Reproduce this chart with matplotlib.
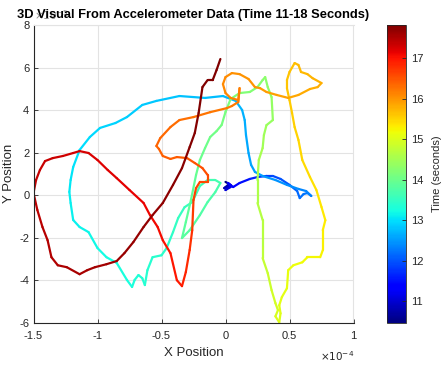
import numpy as np
import matplotlib
matplotlib.use("Agg")
import matplotlib.pyplot as plt
from matplotlib.collections import LineCollection

plt.rcParams['font.family'] = ['Liberation Sans', 'DejaVu Sans']
plt.rcParams['axes.unicode_minus'] = False

# 轨迹数据 (x 单位 1e-4, y 单位 1e-5, t 秒)
x_pos = [-0.00, 0.03, -0.01, 0.04, 0.00, 0.04, 0.02, 0.06,
         0.11, 0.19, 0.25, 0.32, 0.37, 0.43, 0.50, 0.56, 0.58, 0.61, 0.64, 0.67,
         0.63, 0.57, 0.48, 0.39, 0.29, 0.23, 0.20, 0.18, 0.16, 0.15, 0.13, 0.08,
         -0.02, -0.16, -0.36, -0.54, -0.65, -0.77, -0.86, -0.98, -1.06, -1.14,
         -1.19, -1.21, -1.22, -1.21, -1.19, -1.14, -1.07, -1.00, -0.93, -0.85,
         -0.77, -0.73, -0.71, -0.68, -0.65, -0.63, -0.61, -0.57, -0.50, -0.46,
         -0.41, -0.37, -0.32, -0.26, -0.20, -0.14, -0.08, -0.04, -0.08, -0.14,
         -0.20, -0.28, -0.34, -0.31, -0.27, -0.23, -0.20, -0.16, -0.12, -0.07,
         -0.03, 0.00, 0.04, 0.11, 0.19, 0.25, 0.29, 0.31, 0.33, 0.36, 0.37,
         0.32, 0.30, 0.29, 0.26, 0.25, 0.25, 0.29, 0.29, 0.29, 0.33, 0.36,
         0.39, 0.41, 0.39, 0.42, 0.43, 0.42, 0.44, 0.48, 0.49, 0.53, 0.60,
         0.64, 0.74, 0.76, 0.76, 0.78, 0.75, 0.71, 0.66, 0.60, 0.57, 0.54,
         0.52, 0.50, 0.48, 0.48, 0.50, 0.54, 0.57, 0.59, 0.64, 0.68, 0.75,
         0.72, 0.66, 0.57, 0.49, 0.40, 0.32, 0.27, 0.23, 0.18, 0.11, 0.05,
         0.00, -0.02, -0.00, 0.04, 0.10, 0.11, 0.10, 0.05, 0.01, -0.12, -0.25,
         -0.36, -0.43, -0.51, -0.54, -0.52, -0.49, -0.43, -0.38, -0.30, -0.24,
         -0.18, -0.14, -0.14, -0.20, -0.23, -0.25, -0.26, -0.28, -0.31, -0.34,
         -0.38, -0.43, -0.49, -0.53, -0.59, -0.64, -0.75, -0.85, -0.92, -1.00,
         -1.07, -1.14, -1.19, -1.27, -1.35, -1.41, -1.45, -1.48, -1.50, -1.47,
         -1.43, -1.39, -1.36, -1.31, -1.24, -1.14, -1.08, -1.02, -0.93, -0.85,
         -0.79, -0.72, -0.64, -0.57, -0.49, -0.41, -0.34, -0.28, -0.24, -0.21,
         -0.18, -0.14, -0.10, -0.07, -0.04]
y_pos = [0.62, 0.52, 0.33, 0.48, 0.24, 0.38, 0.57, 0.38,
         0.57, 0.76, 0.85, 0.90, 0.90, 0.76, 0.48, 0.19, -0.14, 0.05, 0.10, -0.04,
         0.19, 0.29, 0.48, 0.71, 0.90, 1.09, 1.42, 1.98, 2.83, 3.53, 4.00, 4.43,
         4.66, 4.57, 4.66, 4.43, 4.24, 3.67, 3.39, 3.16, 2.73, 2.12,
         1.32, 0.71, 0.15, -0.37, -1.17, -1.50, -1.74, -2.49, -2.92, -3.19,
         -3.99, -4.32, -3.99, -3.76, -3.91, -4.23, -3.53, -2.92, -2.83, -2.49,
         -1.74, -1.08, -0.57, -0.33, 0.43, 0.71, 0.71, 0.57, 0.14, -0.33,
         -0.94, -1.65, -2.02, -1.27, -0.23, 0.95, 1.65, 2.21, 2.73, 3.01,
         3.30, 3.91, 4.52, 4.80, 4.85, 5.08, 5.41, 5.55, 5.08, 4.61, 3.53,
         3.29, 2.82, 2.21, 1.65, 0.71, -0.37, -1.17, -2.44, -2.96, -3.67, -4.47,
         -5.08, -5.41, -5.70, -5.98, -5.56, -5.18, -4.80, -4.38, -3.53, -3.30, -3.16,
         -2.92, -2.92, -2.59, -1.65, -1.18, -0.56, 0.24, 0.85, 1.65, 2.59, 3.20,
         3.86, 4.47, 5.03, 5.41, 5.79, 6.21, 6.12, 5.79, 5.69, 5.50, 5.27,
         5.08, 4.99, 4.71, 4.57, 4.71, 4.85, 5.03, 5.08, 5.46, 5.69, 5.74,
         5.55, 5.22, 4.80, 4.57, 4.47, 5.03, 4.38, 4.19, 4.09, 3.90, 3.67,
         3.53, 3.20, 2.68, 2.31, 2.17, 1.84, 1.70, 1.79, 1.74, 1.51,
         1.27, 0.95, 0.62, 0.62, 0.33, -0.23, -1.65, -2.58, -3.62, -4.28,
         -4.00, -2.73, -2.12, -1.50, -0.94, -0.37, 0.24, 0.80, 1.18, 1.65,
         1.98, 2.07, 1.98, 1.84, 1.74, 1.60, 1.18, 0.71, 0.10, -0.70,
         -1.50, -2.12, -2.92, -3.30, -3.39, -3.72, -3.53, -3.39, -3.25, -3.10,
         -2.73, -2.21, -1.50, -0.94, -0.37, 0.48, 1.27, 2.26, 2.92, 3.86,
         5.08, 5.41, 5.41, 5.88, 6.40]
t_sec = [10.47, 10.6, 10.75, 10.9, 11.0, 11.1, 11.2, 11.3,
         11.4, 11.55, 11.7, 11.8, 11.9, 11.98, 12.06, 12.13, 12.18, 12.22, 12.26, 12.3,
         12.34, 12.38, 12.42, 12.46, 12.5, 12.54, 12.57, 12.6, 12.63, 12.66, 12.69, 12.72,
         12.75, 12.78, 12.8, 12.83, 12.86, 12.89, 12.91, 12.94, 12.96, 12.99,
         13.02, 13.05, 13.08, 13.1, 13.13, 13.15, 13.17, 13.2, 13.22, 13.24,
         13.27, 13.29, 13.31, 13.32, 13.34, 13.36, 13.38, 13.4, 13.42, 13.44,
         13.47, 13.5, 13.53, 13.56, 13.6, 13.63, 13.66, 13.69, 13.72, 13.75,
         13.78, 13.81, 13.84, 13.87, 13.9, 13.93, 13.96, 13.99, 14.02, 14.05,
         14.08, 14.11, 14.14, 14.17, 14.2, 14.23, 14.26, 14.28, 14.31, 14.34, 14.38,
         14.42, 14.46, 14.5, 14.54, 14.58, 14.62, 14.66, 14.72, 14.76, 14.82, 14.87,
         14.92, 14.95, 14.98, 15.0, 15.03, 15.05, 15.08, 15.1, 15.13, 15.16, 15.19,
         15.22, 15.25, 15.27, 15.3, 15.33, 15.36, 15.39, 15.42, 15.46, 15.49, 15.52,
         15.55, 15.58, 15.6, 15.62, 15.64, 15.67, 15.69, 15.71, 15.73, 15.75, 15.78,
         15.8, 15.82, 15.85, 15.88, 15.91, 15.94, 15.96, 15.98, 16.0, 16.02, 16.04,
         16.06, 16.08, 16.1, 16.12, 16.14, 16.16, 16.18, 16.2, 16.22, 16.25, 16.28,
         16.3, 16.32, 16.35, 16.37, 16.39, 16.41, 16.43, 16.45, 16.47, 16.5,
         16.53, 16.56, 16.58, 16.6, 16.62, 16.66, 16.74, 16.8, 16.87, 16.92,
         16.95, 17.0, 17.03, 17.06, 17.09, 17.12, 17.15, 17.18, 17.2, 17.23,
         17.25, 17.27, 17.29, 17.31, 17.33, 17.35, 17.37, 17.39, 17.41, 17.43,
         17.45, 17.47, 17.49, 17.51, 17.53, 17.55, 17.57, 17.58, 17.6, 17.62,
         17.64, 17.66, 17.68, 17.7, 17.71, 17.73, 17.75, 17.77, 17.78, 17.79,
         17.8, 17.81, 17.812, 17.816, 17.82]

x_ticks = [-1.5, -1, -0.5, 0, 0.5, 1]
x_tick_labels = ['-1.5', '-1', '-0.5', '0', '0.5', '1']
y_ticks = [-6, -4, -2, 0, 2, 4, 6, 8]
y_tick_labels = ['-6', '-4', '-2', '0', '2', '4', '6', '8']
cb_ticks = [11, 12, 13, 14, 15, 16, 17]
t_min, t_max = 10.47, 17.82

x = np.array(x_pos) * 1e-4
y = np.array(y_pos) * 1e-5
t = np.array(t_sec)

W, H = 445, 367
fig = plt.figure(figsize=(W / 100, H / 100), dpi=100)
ax = fig.add_axes([33.5 / W, 1 - 322.7 / H, 320 / W, 297.7 / H])

pts = np.column_stack([x, y]).reshape(-1, 1, 2)
segs = np.concatenate([pts[:-1], pts[1:]], axis=1)
norm = plt.Normalize(t_min, t_max)
lc = LineCollection(segs, cmap='jet', norm=norm, linewidth=1.6,
                    capstyle='round', joinstyle='round')
lc.set_array((t[:-1] + t[1:]) / 2)
ax.add_collection(lc)

ax.set_xlim(-1.5e-4, 1e-4)
ax.set_ylim(-6e-5, 8e-5)
ax.set_xticks(np.array(x_ticks) * 1e-4, x_tick_labels)
ax.set_yticks(np.array(y_ticks) * 1e-5, y_tick_labels)

dark = '#262626'
ax.grid(True, color='#e3e3e3', linewidth=0.8)
ax.set_axisbelow(True)
for side in ('top', 'right'):
    ax.spines[side].set_color('#e3e3e3')
    ax.spines[side].set_linewidth(0.8)
for side in ('left', 'bottom'):
    ax.spines[side].set_color(dark)
    ax.spines[side].set_linewidth(0.8)
ax.tick_params(direction='in', length=3, width=0.6, colors=dark, labelsize=8,
               top=False, right=False)
ax.tick_params(axis='x', pad=6)
ax.tick_params(axis='y', pad=3)

ax.set_xlabel('X Position', fontsize=9.5, color=dark, labelpad=4)
ax.set_ylabel('Y Position', fontsize=9.5, color=dark)
ax.yaxis.set_label_coords(-19 / 320, 0.5)

# 指数标注 (手动放置)
fig.text(34 / W, 1 - 15 / H, r'$\times 10^{-5}$', fontsize=7.5, color='#8c8c8c',
         ha='left', va='center')
fig.text(354 / W, 1 - 356 / H, r'$\times 10^{-4}$', fontsize=7.5, color=dark,
         ha='right', va='center')

fig.text(193 / W, 1 - 15 / H,
         '3D Visual From Accelerometer Data (Time 11-18 Seconds)',
         fontsize=9.3, fontweight='bold', ha='center', va='center')

cax = fig.add_axes([387 / W, 1 - 322.7 / H, 19 / W, 297.7 / H])
sm = plt.cm.ScalarMappable(norm=norm, cmap='jet')
cb = fig.colorbar(sm, cax=cax, ticks=cb_ticks)
cb.outline.set_edgecolor(dark)
cb.outline.set_linewidth(0.6)
cax.tick_params(direction='in', length=3, width=0.6, colors=dark, labelsize=8)
cb.set_label('Time (seconds)', fontsize=8, color=dark, labelpad=6)

fig.savefig('out.png', dpi=100)
